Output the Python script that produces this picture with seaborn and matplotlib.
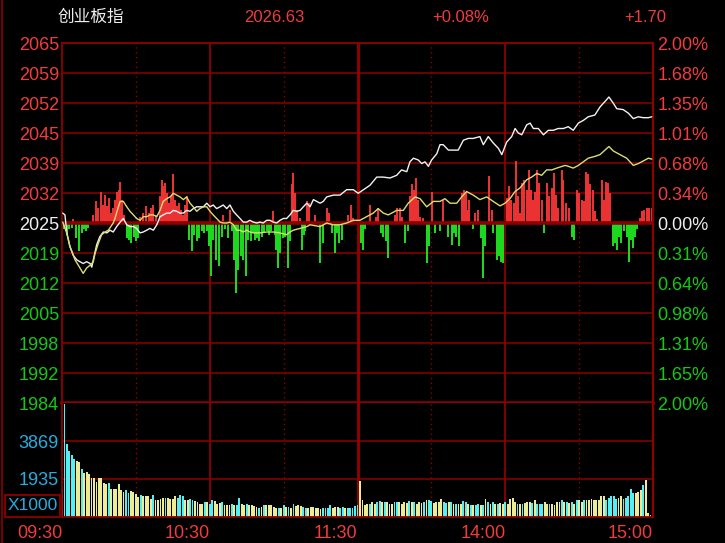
import matplotlib

matplotlib.use("Agg")

import matplotlib.pyplot as plt
import numpy as np
import pandas as pd
import seaborn as sns
from matplotlib.lines import Line2D
from matplotlib.patches import Rectangle


W, H = 725, 543

GRID = "#8c0000"
RED = "#f03c3c"
GREEN = "#14c814"
WHITE_TXT = "#eeeeee"
CYAN_TXT = "#22aee0"

# header
title_name = "创业板指"
title_price = "2026.63"
title_pct = "+0.08%"
title_chg = "+1.70"

# axis labels (top to bottom)
left_labels = ["2065", "2059", "2052", "2045", "2039", "2032", "2025",
               "2019", "2012", "2005", "1998", "1992", "1984"]
right_labels = ["2.00%", "1.68%", "1.35%", "1.01%", "0.68%", "0.34%", "0.00%",
                "0.31%", "0.64%", "0.98%", "1.31%", "1.65%", "2.00%"]
vol_ticks = [1935, 3869, 5804]
vol_labels = ["1935", "3869"]
time_ticks = [0, 60, 120, 180, 240]
time_labels = ["09:30", "10:30", "11:30", "14:00", "15:00"]
half_hours = [30, 90, 150, 210]

# index line (minutes from open, % change)
white_t = [0.3, 1.2, 1.9, 3.2, 4.6, 6.0, 7.3, 8.6, 10.0, 11.4,
           12.1, 12.7, 14.1, 15.4, 16.8, 18.2, 19.5, 20.8, 22.2, 23.6,
           24.9, 26.3, 27.6, 29.0, 30.3, 31.7, 33.0, 34.4, 35.7, 37.1,
           38.5, 39.8, 41.1, 42.5, 43.9, 45.2, 46.6, 47.9, 49.3, 50.6,
           52.0, 53.3, 54.7, 56.0, 57.4, 58.8, 60.1, 61.4, 62.8, 64.2,
           65.5, 66.9, 68.2, 69.6, 70.9, 72.3, 73.6, 75.0, 76.3, 77.7,
           79.1, 80.4, 81.7, 83.1, 84.5, 85.8, 87.2, 88.5, 89.9, 91.2,
           92.6, 93.9, 95.3, 96.7, 98.0, 99.4, 100.7, 102.1, 104.8, 106.1,
           107.5, 110.2, 112.9, 115.6, 118.3, 120.3, 122.4, 125.1, 127.8, 130.5,
           133.2, 135.9, 137.9, 140.0, 141.3, 142.7, 144.7, 146.1, 147.4, 148.8,
           150.1, 152.2, 153.5, 154.8, 156.9, 158.9, 160.9, 163.0, 165.0, 167.0,
           169.7, 171.1, 173.1, 175.1, 177.2, 178.6, 180.6, 182.6, 184.0, 185.3,
           186.7, 188.7, 190.1, 191.4, 193.4, 195.5, 197.5, 199.5, 201.5, 203.6,
           205.6, 207.6, 209.7, 211.7, 213.7, 216.4, 218.5, 220.5, 222.1, 223.9,
           225.3, 227.9, 230.0, 232.0, 234.0, 236.1, 238.1, 239.5]
white_pct = [0.11, 0.09, -0.10, -0.26, -0.36, -0.41, -0.43, -0.45, -0.43, -0.45,
             -0.49, -0.41, -0.24, -0.15, -0.10, -0.11, -0.08, -0.10, -0.04, 0.01,
             0.05, -0.02, -0.04, -0.04, -0.06, -0.11, -0.10, -0.08, -0.06, -0.08,
             -0.02, 0.07, 0.09, 0.11, 0.11, 0.14, 0.13, 0.11, 0.11, 0.14,
             0.13, 0.16, 0.18, 0.18, 0.18, 0.22, 0.18, 0.20, 0.16, 0.18,
             0.20, 0.16, 0.20, 0.13, 0.09, 0.05, 0.01, 0.01, 0.03, 0.01,
             0.00, 0.01, 0.00, 0.03, 0.03, 0.01, 0.00, 0.03, 0.05, 0.05,
             0.09, 0.14, 0.13, 0.14, 0.18, 0.22, 0.18, 0.26, 0.22, 0.24,
             0.29, 0.31, 0.31, 0.37, 0.37, 0.33, 0.37, 0.42, 0.51, 0.51,
             0.50, 0.53, 0.59, 0.57, 0.68, 0.72, 0.70, 0.66, 0.68, 0.63,
             0.70, 0.77, 0.87, 0.87, 0.81, 0.81, 0.81, 0.92, 0.94, 0.94,
             0.96, 0.87, 0.96, 0.89, 0.83, 0.76, 0.90, 0.96, 1.05, 1.00,
             0.98, 1.09, 1.11, 1.05, 1.05, 0.98, 1.03, 1.03, 1.05, 1.05,
             1.07, 1.03, 1.11, 1.14, 1.18, 1.20, 1.29, 1.35, 1.40, 1.33,
             1.27, 1.26, 1.22, 1.16, 1.18, 1.17, 1.17, 1.18]

# average line
yellow_t = [0.3, 1.9, 3.2, 5.3, 7.3, 8.6, 10.0, 11.4, 12.7, 13.4,
            14.7, 16.1, 17.5, 18.8, 20.8, 21.5, 22.9, 23.6, 24.9, 26.3,
            27.6, 29.0, 30.3, 31.7, 33.0, 34.4, 35.7, 37.1, 38.5, 39.8,
            41.1, 42.5, 43.9, 45.2, 46.6, 47.9, 49.3, 50.6, 52.0, 53.3,
            54.7, 56.0, 57.4, 58.8, 60.1, 61.4, 62.8, 64.2, 65.5, 66.9,
            68.2, 69.6, 70.9, 72.3, 73.6, 75.0, 76.3, 77.7, 80.4, 83.1,
            85.8, 88.5, 91.2, 92.6, 93.9, 96.7, 99.4, 100.7, 104.8, 107.5,
            110.2, 112.9, 115.6, 118.3, 121.0, 123.7, 126.4, 128.4, 130.5, 132.5,
            135.9, 138.6, 140.6, 143.4, 145.4, 148.1, 150.8, 153.5, 155.5, 157.6,
            160.3, 162.3, 164.3, 167.0, 169.7, 172.5, 175.1, 177.9, 179.9, 181.9,
            184.0, 186.0, 188.7, 190.7, 192.8, 194.8, 196.8, 198.9, 200.9, 204.3,
            205.6, 207.6, 209.7, 211.7, 213.7, 216.4, 218.5, 220.5, 222.1, 223.9,
            226.6, 229.3, 232.0, 234.0, 236.1, 238.1, 239.5]
yellow_pct = [0.01, -0.11, -0.26, -0.41, -0.50, -0.56, -0.50, -0.47, -0.43, -0.34,
              -0.23, -0.13, -0.10, -0.08, 0.00, 0.05, 0.18, 0.24, 0.24, 0.18,
              0.13, 0.09, 0.05, 0.03, 0.07, 0.07, 0.09, 0.09, 0.07, 0.14,
              0.24, 0.27, 0.29, 0.33, 0.31, 0.29, 0.26, 0.29, 0.22, 0.18,
              0.13, 0.16, 0.18, 0.18, 0.13, 0.09, 0.05, 0.01, 0.00, 0.00,
              0.01, -0.02, -0.08, -0.08, -0.10, -0.08, -0.10, -0.11, -0.11, -0.10,
              -0.10, -0.11, -0.13, -0.10, -0.08, -0.06, -0.04, -0.02, -0.04, 0.00,
              -0.02, -0.02, 0.00, 0.03, 0.03, 0.07, 0.11, 0.16, 0.11, 0.09,
              0.14, 0.14, 0.22, 0.29, 0.27, 0.18, 0.24, 0.24, 0.27, 0.22,
              0.22, 0.29, 0.35, 0.31, 0.26, 0.29, 0.24, 0.19, 0.22, 0.27,
              0.35, 0.39, 0.48, 0.51, 0.55, 0.53, 0.59, 0.59, 0.61, 0.64,
              0.63, 0.61, 0.64, 0.68, 0.72, 0.74, 0.76, 0.81, 0.85, 0.80,
              0.76, 0.72, 0.64, 0.66, 0.69, 0.72, 0.71]

# red / green strength bars
flow_t = [0.8, 1.9, 3.0, 4.1, 4.6, 5.7, 7.0, 8.0, 8.9, 9.7, 10.7,
          12.5, 13.8, 14.8, 15.7, 16.5, 17.3, 18.1, 19.0, 19.8, 20.6,
          21.5, 22.5, 23.1, 23.7, 24.5, 25.3, 26.3, 27.3, 28.2, 29.2,
          30.1, 30.9, 31.7, 33.0, 34.1, 35.2, 36.0, 37.1, 38.0, 39.8,
          40.5, 41.1, 42.0, 42.8, 43.6, 44.4, 45.2, 46.0, 46.8, 47.6,
          48.5, 49.3, 50.1, 50.9, 51.7, 52.7, 53.6, 54.7, 55.8, 56.7,
          57.7, 58.7, 59.7, 60.5, 61.5, 62.5, 63.6, 64.8, 65.5, 66.2,
          67.3, 68.2, 68.9, 69.8, 70.6, 71.6, 72.6, 73.6, 74.7, 75.7,
          76.6, 77.7, 78.5, 79.3, 80.1, 81.1, 82.0, 83.1, 83.9, 84.7,
          85.6, 86.4, 87.0, 87.8, 88.6, 89.6, 90.7, 91.8, 92.6, 93.3,
          93.9, 94.8, 95.6, 96.6, 97.3, 98.1, 98.8, 99.6, 100.4, 102.7,
          104.8, 106.1, 107.7, 108.6, 109.5, 110.7, 111.8, 112.6, 113.6, 116.3,
          117.2, 118.3, 121.3, 122.1, 123.2, 125.1, 127.5, 128.5, 129.4, 130.5,
          131.6, 132.5, 135.2, 135.9, 137.3, 137.9, 139.4, 140.4, 141.3, 142.1,
          142.9, 143.6, 144.4, 145.4, 146.7, 148.4, 149.1, 150.1, 151.5, 153.5,
          154.9, 156.9, 158.2, 159.2, 160.0, 161.1, 162.6, 163.2, 163.9, 164.7,
          165.4, 167.0, 167.6, 169.1, 170.1, 170.8, 171.9, 173.5, 174.5, 175.2,
          176.5, 177.3, 178.3, 179.1, 180.6, 181.5, 182.5, 183.4, 184.2, 185.3,
          186.1, 186.9, 187.6, 188.7, 189.5, 190.3, 191.4, 192.2, 193.0, 193.8,
          194.8, 195.9, 197.1, 197.9, 198.8, 199.8, 200.6, 201.5, 202.9, 203.6,
          204.7, 206.0, 207.0, 207.9, 209.0, 209.8, 211.0, 212.0, 212.8, 213.7,
          214.4, 215.5, 216.4, 217.4, 219.2, 220.1, 220.8, 221.6, 222.5, 223.9,
          224.6, 225.2, 226.3, 227.1, 228.2, 229.3, 230.2, 230.9, 231.7, 232.7,
          233.4, 234.7, 235.7, 236.5, 237.4, 238.5, 239.5]
flow_pct = [-0.07, -0.13, -0.07, -0.06, 0.04, -0.17, -0.31, -0.11, -0.07, -0.09, -0.06,
            0.09, 0.24, 0.17, 0.35, 0.20, 0.31, 0.19, 0.28, 0.11, 0.17,
            0.26, 0.35, 0.37, 0.46, 0.26, 0.09, -0.17, -0.19, -0.22, -0.15,
            -0.20, -0.17, 0.07, 0.11, 0.19, 0.11, 0.17, 0.20, 0.09, 0.30,
            0.48, 0.41, 0.44, 0.33, 0.22, 0.30, 0.54, 0.26, 0.19, 0.22,
            0.15, 0.09, 0.20, 0.30, -0.19, -0.31, -0.13, -0.20, -0.17, -0.09,
            -0.11, -0.09, -0.26, -0.59, -0.19, -0.41, -0.48, -0.15, 0.09, -0.07,
            -0.17, 0.15, -0.09, -0.41, -0.78, -0.52, -0.37, -0.41, -0.59, -0.19,
            -0.20, -0.11, -0.19, -0.17, -0.20, -0.15, -0.11, -0.09, -0.13, -0.09,
            0.13, -0.13, -0.30, -0.50, -0.33, -0.17, -0.15, -0.50, -0.20, 0.43,
            0.56, 0.33, 0.15, 0.06, -0.30, -0.13, -0.09, 0.24, 0.22, 0.09,
            -0.44, -0.22, 0.17, 0.11, -0.11, -0.33, -0.11, -0.22, -0.19, 0.09,
            0.20, 0.06, -0.22, -0.30, -0.07, 0.20, 0.07, 0.17, -0.11, -0.15,
            -0.20, -0.39, 0.09, 0.17, 0.17, 0.07, -0.22, -0.09, 0.30, 0.43,
            0.37, 0.50, 0.26, 0.07, 0.06, -0.44, -0.26, 0.35, -0.11, -0.09,
            0.26, -0.15, -0.24, -0.11, -0.15, -0.26, 0.33, 0.37, 0.35, 0.15,
            0.26, -0.07, 0.11, 0.15, -0.17, -0.61, -0.26, 0.52, 0.15, -0.11,
            -0.41, -0.37, -0.43, -0.44, 0.28, 0.41, 0.26, 0.22, 0.69, 0.30,
            0.11, 0.44, 0.48, 0.37, 0.59, 0.37, 0.26, 0.35, 0.59, 0.44,
            0.26, -0.11, 0.44, 0.30, 0.39, 0.56, 0.31, 0.17, 0.59, 0.48,
            0.22, 0.17, -0.15, -0.19, 0.37, 0.33, 0.26, 0.24, 0.57, 0.54,
            0.43, 0.37, 0.13, 0.04, 0.48, 0.26, 0.46, 0.44, 0.33, -0.26,
            -0.22, -0.30, -0.15, -0.22, -0.09, -0.15, -0.43, -0.19, -0.28, -0.15,
            -0.07, 0.06, 0.13, 0.15, 0.17, 0.17, 0.17]

# volume per minute (x1000), u = up bar (cyan), d = down bar (yellow)
volume_am = [1445, 5746, 3740, 3366, 3145, 2975, 2839, 2805, 2431, 2244,
             2295, 2210, 1989, 1989, 1785, 1989, 1989, 1734, 1666, 1751,
             1445, 1445, 1445, 1666, 1360, 1275, 1394, 1224, 1309, 1275,
             1190, 1020, 1139, 1054, 1054, 1054, 935, 1139, 884, 850,
             935, 969, 986, 986, 918, 918, 1054, 986, 1139, 1088,
             850, 884, 918, 850, 799, 765, 680, 680, 765, 748,
             680, 850, 833, 680, 714, 765, 629, 629, 629, 680,
             629, 629, 986, 680, 629, 646, 595, 595, 544, 510,
             476, 510, 595, 595, 595, 595, 510, 459, 459, 476,
             595, 510, 510, 476, 680, 544, 595, 544, 510, 476,
             459, 510, 510, 459, 476, 425, 459, 459, 459, 595,
             476, 510, 510, 459, 510, 459, 459, 459, 459, 544,
             595]
volume_pm = [1836, 850, 595, 646, 680, 765, 680, 765, 816, 765,
             765, 765, 680, 680, 765, 765, 765, 680, 765, 714,
             816, 765, 765, 680, 765, 714, 765, 850, 850, 816,
             714, 765, 765, 935, 765, 714, 765, 765, 646, 680,
             680, 680, 816, 765, 646, 595, 595, 595, 646, 595,
             595, 935, 765, 680, 765, 646, 646, 714, 680, 765,
             646, 935, 986, 765, 680, 646, 646, 714, 765, 765,
             714, 850, 680, 646, 646, 765, 646, 646, 680, 595,
             765, 765, 884, 765, 765, 714, 765, 680, 850, 850,
             765, 850, 850, 884, 935, 850, 850, 850, 1054, 1054,
             850, 986, 1054, 1054, 935, 986, 1054, 935, 986, 1088,
             1445, 1224, 1224, 1275, 1394, 1615, 1870, 221, 85, 2839]
direction_am = ("uuuuuuddud" "dddddddddu" "dddddduudd" "dduddddudd"
                "ddudddduuu" "dduuddddud" "uudddudddu" "duuddudddd"
                "ududddddud" "udududdduu" "dddddduuuu" "ddduuduuuu" "u")
direction_pm = ("ddddudduud" "uddduudddd" "ududdduduu" "dddduududu"
                "dduududuud" "ududududdu" "ddddududdd" "uduuuddudd"
                "ddudududud" "dudddddddd" "uuuuudduuu" "uudddudduu")


def style_spines(ax, widths):
    for side, lw in widths.items():
        ax.spines[side].set_color(GRID)
        ax.spines[side].set_linewidth(lw)
        ax.spines[side].set_visible(lw > 0)


def draw_time_grid(ax):
    for t in time_ticks[1:-1]:
        ax.axvline(t, color=GRID, lw=2.2 if t == 120 else 1.3, zorder=1)
    for t in half_hours:
        ax.axvline(t, color=GRID, lw=1.0, ls=(0, (1, 2.5)), zorder=1)


def fig_box(x0, y0, x1, y1):
    return [x0 / W, 1 - y1 / H, (x1 - x0) / W, (y1 - y0) / H]


sns.set_style("dark", {"axes.facecolor": "black", "figure.facecolor": "black"})
plt.rcParams["font.family"] = ["Liberation Sans", "Noto Sans CJK SC", "DejaVu Sans"]

fig = plt.figure(figsize=(W / 100, H / 100), dpi=100, facecolor="black")

# ---- price panel ----
ax = fig.add_axes(fig_box(62, 43, 653, 403))
ax.set_facecolor("black")

price_ticks = np.linspace(2, -2, len(left_labels))
label_colors = [RED] * 6 + [WHITE_TXT] + [GREEN] * 6

for y in price_ticks:
    ax.axhline(y, color=GRID, lw=1.1, zorder=1)
ax.axhline(0, color=GRID, lw=2.6, zorder=3)
draw_time_grid(ax)

flow = pd.DataFrame({"t": flow_t, "pct": flow_pct})
flow["color"] = np.where(flow["pct"] > 0, "#f23434", "#1ee01e")
ax.vlines(flow["t"], 0, flow["pct"], colors=flow["color"], lw=1.4, zorder=2)

sns.lineplot(x=white_t, y=white_pct, ax=ax, color="#f2f2f2", lw=1.0,
             estimator=None, sort=False, zorder=4)
sns.lineplot(x=yellow_t, y=yellow_pct, ax=ax, color="#dcdc74", lw=1.0,
             estimator=None, sort=False, zorder=5)

ax.set_xlim(0, 240)
ax.set_ylim(-2, 2)
ax.set_xticks([])
ax.set_yticks(price_ticks)
ax.set_yticklabels(left_labels)
for lbl, c in zip(ax.get_yticklabels(), label_colors):
    lbl.set_color(c)
ax.tick_params(axis="y", length=0, pad=2.2, labelsize=13)
ax.set_xlabel("")
ax.set_ylabel("")
style_spines(ax, {"left": 1.3, "top": 1.3, "right": 1.6, "bottom": 2.6})

axr = ax.twinx()
axr.set_ylim(-2, 2)
axr.set_yticks(price_ticks)
axr.set_yticklabels(right_labels)
for lbl, c in zip(axr.get_yticklabels(), label_colors):
    lbl.set_color(c)
axr.tick_params(axis="y", length=0, pad=3, labelsize=13)
for side in axr.spines:
    axr.spines[side].set_visible(False)

# ---- volume panel ----
axv = fig.add_axes(fig_box(62, 403, 653, 517))
axv.set_facecolor("black")

volume = pd.DataFrame({
    "minute": np.arange(len(volume_am) + len(volume_pm)),
    "volume": volume_am + volume_pm,
    "direction": list(direction_am + direction_pm),
})

for v in vol_ticks[:-1]:
    axv.axhline(v, color=GRID, lw=1.1, zorder=0)
draw_time_grid(axv)

sns.barplot(data=volume, x="minute", y="volume", hue="direction",
            palette={"u": "#55eef2", "d": "#ecec96"}, native_scale=True,
            dodge=False, width=0.75, saturation=1, errorbar=None,
            linewidth=0, legend=False, ax=axv, zorder=2)

axv.set_xlim(0, 240)
axv.set_ylim(0, vol_ticks[-1])
axv.set_yticks(vol_ticks[:-1])
axv.set_yticklabels(vol_labels)
axv.tick_params(axis="y", length=0, pad=2.2, labelsize=13, labelcolor=CYAN_TXT)
axv.set_xticks(time_ticks)
axv.set_xticklabels(time_labels, ha="right")
axv.tick_params(axis="x", length=4, width=1.2, color=GRID, pad=1.5,
                labelsize=13, labelcolor=RED)
axv.set_xlabel("")
axv.set_ylabel("")
style_spines(axv, {"left": 1.3, "top": 0, "right": 1.6, "bottom": 1.3})

# ---- frame, unit box and header ----
fig.add_artist(Line2D([1.5 / W, 1.5 / W], [0, 1], color=GRID, lw=1.2))
fig.add_artist(Rectangle((5 / W, 1 - 517 / H), 55 / W, 22 / H, fill=False,
                         edgecolor=GRID, lw=1.3, transform=fig.transFigure))
fig.text(32.5 / W, 1 - 506 / H, "X1000", color=CYAN_TXT, fontsize=12.5,
         ha="center", va="center")

header_y = 1 - 17 / H
fig.text(91 / W, header_y, title_name, color=WHITE_TXT, fontsize=12,
         ha="center", va="center", family=["Noto Sans CJK SC", "DejaVu Sans"])
fig.text(274 / W, header_y, title_price, color=RED, fontsize=12,
         ha="center", va="center")
fig.text(461 / W, header_y, title_pct, color=RED, fontsize=12,
         ha="center", va="center")
fig.text(645 / W, header_y, title_chg, color=RED, fontsize=12,
         ha="center", va="center")

fig.savefig("out.png", dpi=100, facecolor="black")
plt.close(fig)
